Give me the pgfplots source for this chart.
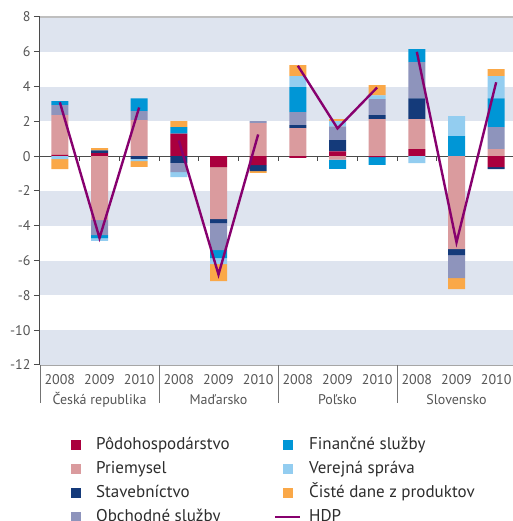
\documentclass[border=0pt]{standalone}
\usepackage{fontspec}
\setmainfont{PT Sans}
\usepackage{pgfplots}
\usepackage{pgfplotstable}
\pgfplotsset{compat=1.18}

\definecolor{cpod}{RGB}{170,0,62}
\definecolor{cpri}{RGB}{218,155,158}
\definecolor{csta}{RGB}{20,58,122}
\definecolor{cobc}{RGB}{142,148,188}
\definecolor{cfin}{RGB}{0,150,214}
\definecolor{cver}{RGB}{147,205,240}
\definecolor{ccis}{RGB}{250,168,72}
\definecolor{chdp}{RGB}{135,0,110}
\definecolor{band}{RGB}{222,228,239}
\definecolor{txt}{RGB}{85,85,85}
\definecolor{legtxt}{RGB}{45,45,45}
\definecolor{axc}{RGB}{75,75,75}

% kladne prispevky (stack nahor od nuly)
\pgfplotstableread{
x pod pri sta obc fin ver cis
0 0.07 2.29 0 0.57 0.23 0 0
1 0.17 0 0.17 0 0 0 0.12
2 0 2.07 0 0.52 0.74 0 0
3 1.30 0 0 0 0.37 0 0.34
4 0 0 0 0 0 0 0
5 0 1.90 0 0.11 0 0 0
6 0 1.61 0.17 0.75 1.44 0.63 0.63
7 0.27 0 0.65 0.80 0 0.29 0.12
8 0 2.13 0.23 0.92 0 0.22 0.58
9 0.40 1.73 1.20 2.07 0.75 0 0
10 0 0 0 0 1.15 1.15 0
11 0 0.40 0 1.27 1.66 1.27 0.40
}\kladne

% zaporne prispevky (stack nadol od nuly)
\pgfplotstableread{
x pod pri sta obc fin ver cis
0 0 0 0 0 0 -0.17 -0.58
1 0 -3.68 0 -0.86 -0.19 -0.14 0
2 0 0 -0.15 0 0 -0.14 -0.32
3 0 0 -0.38 -0.54 0 -0.29 0
4 -0.63 -2.99 -0.23 -1.55 -0.46 -0.34 -0.98
5 -0.52 0 -0.34 0 0 0 -0.10
6 -0.10 0 0 0 0 0 0
7 0 -0.20 0 0 -0.53 0 0
8 -0.05 0 0 0 -0.45 0 0
9 0 0 0 0 0 -0.40 0
10 0 -5.34 -0.35 -1.32 0 0 -0.63
11 -0.63 0 -0.12 0 0 0 0
}\zaporne

\pgfplotstableread{
x hdp
0 3.1
1 -4.7
2 2.8
2.5 nan
3 0.9
4 -6.8
5 1.25
5.5 nan
6 5.2
7 1.6
8 3.95
8.5 nan
9 6.0
10 -4.95
11 4.25
}\hdp

\pgfplotsset{
  base/.style={scale only axis, width=476pt, height=348pt,
    xmin=-0.5, xmax=11.5, ymin=-12, ymax=8,
    at={(0pt,0pt)}, anchor=south west, clip=false},
  sqleg/.style={legend image code/.code={%
    \path[draw=none, fill=none] (0pt,-6pt) rectangle (25pt,6pt);
    \fill[#1, draw=none] (8pt,-5pt) rectangle (18pt,5pt);}},
  lnleg/.style={legend image code/.code={%
    \path[draw=none, fill=none] (0pt,-6pt) rectangle (25pt,6pt);
    \draw[#1, line width=2.4pt] (0pt,0pt) -- (25pt,0pt);}},
}

\begin{document}
\begin{tikzpicture}
\useasboundingbox (-40pt,-156pt) rectangle (472pt,365pt);

% pozadie, osi, popisy
\begin{axis}[base,
  axis lines*=left,
  axis line style={-},
  y axis line style={draw=axc, line width=1pt},
  x axis line style={draw=black!35, line width=0.8pt},
  ytick={-12,-10,...,8},
  ytick style={draw=axc, line width=1pt},
  tick align=outside,
  major tick length=6pt,
  xtick={0,...,11},
  xticklabels={2008,2009,2010,2008,2009,2010,2008,2009,2010,2008,2009,2010},
  xtick style={draw=none},
  tick label style={font=\fontsize{14}{16}\selectfont, text=txt},
  /pgf/number format/assume math mode=true,
  xticklabel style={anchor=base, yshift=-13pt},
]
\fill[band] (-0.5,6) rectangle (11.5,8);
\fill[band] (-0.5,2) rectangle (11.5,4);
\fill[band] (-0.5,-2) rectangle (11.5,-4);
\fill[band] (-0.5,-6) rectangle (11.5,-8);
\fill[band] (-0.5,-10) rectangle (11.5,-12);
\draw[black!25, line width=1.6pt] (-0.5,8) -- (11.5,8);
\draw[axc, line width=0.9pt] (-0.5,0) -- (11.5,0);
\pgfplotsinvokeforeach{0.5,1.5,2.5,3.5,4.5,5.5,6.5,7.5,8.5,9.5,10.5}{
  \draw[axc, line width=0.9pt] (#1,0) -- ([yshift=-5pt]#1,0);
}
\pgfplotsinvokeforeach{-0.5,2.5,5.5,8.5}{
  \draw[black!55, line width=0.9pt] (#1,-12) -- ([yshift=-38pt]#1,-12);
}
\node[anchor=base, yshift=-39pt, font=\fontsize{14}{16}\selectfont, text=txt] at (1,-12) {Česká republika};
\node[anchor=base, yshift=-39pt, font=\fontsize{14}{16}\selectfont, text=txt] at (4,-12) {Maďarsko};
\node[anchor=base, yshift=-39pt, font=\fontsize{14}{16}\selectfont, text=txt] at (7,-12) {Poľsko};
\node[anchor=base, yshift=-39pt, font=\fontsize{14}{16}\selectfont, text=txt] at (10,-12) {Slovensko};
\end{axis}

% kladne stlpce
\begin{axis}[base, hide axis, ybar stacked, bar width=17pt]
\addplot[fill=cpod, draw=none] table[x=x, y=pod] {\kladne};
\addplot[fill=cpri, draw=none] table[x=x, y=pri] {\kladne};
\addplot[fill=csta, draw=none] table[x=x, y=sta] {\kladne};
\addplot[fill=cobc, draw=none] table[x=x, y=obc] {\kladne};
\addplot[fill=cfin, draw=none] table[x=x, y=fin] {\kladne};
\addplot[fill=cver, draw=none] table[x=x, y=ver] {\kladne};
\addplot[fill=ccis, draw=none] table[x=x, y=cis] {\kladne};
\end{axis}

% zaporne stlpce
\begin{axis}[base, hide axis, ybar stacked, bar width=17pt]
\addplot[fill=cpod, draw=none] table[x=x, y=pod] {\zaporne};
\addplot[fill=cpri, draw=none] table[x=x, y=pri] {\zaporne};
\addplot[fill=csta, draw=none] table[x=x, y=sta] {\zaporne};
\addplot[fill=cobc, draw=none] table[x=x, y=obc] {\zaporne};
\addplot[fill=cfin, draw=none] table[x=x, y=fin] {\zaporne};
\addplot[fill=cver, draw=none] table[x=x, y=ver] {\zaporne};
\addplot[fill=ccis, draw=none] table[x=x, y=cis] {\zaporne};
\end{axis}

% HDP + legenda
\begin{axis}[base, hide axis, unbounded coords=jump,
  legend columns=2,
  legend cell align=left,
  legend style={at={(0.0483,-0.207)}, anchor=north west,
    draw=none, fill=none, inner xsep=0pt, inner ysep=0pt,
    font=\fontsize{17}{20}\selectfont, text=legtxt,
    nodes={inner sep=0pt, text height=12pt, text depth=4pt},
    row sep=8pt,
    /tikz/every odd column/.append style={column sep=8pt},
    /tikz/every even column/.append style={column sep=44pt}},
]
\addplot[chdp, line width=2.4pt, forget plot] table[x=x, y=hdp] {\hdp};
\addlegendimage{sqleg=cpod}\addlegendentry{Pôdohospodárstvo}
\addlegendimage{sqleg=cfin}\addlegendentry{Finančné služby}
\addlegendimage{sqleg=cpri}\addlegendentry{Priemysel}
\addlegendimage{sqleg=cver}\addlegendentry{Verejná správa}
\addlegendimage{sqleg=csta}\addlegendentry{Stavebníctvo}
\addlegendimage{sqleg=ccis}\addlegendentry{Čisté dane z produktov}
\addlegendimage{sqleg=cobc}\addlegendentry{Obchodné služby}
\addlegendimage{lnleg=chdp}\addlegendentry{HDP}
\end{axis}
\end{tikzpicture}
\end{document}
